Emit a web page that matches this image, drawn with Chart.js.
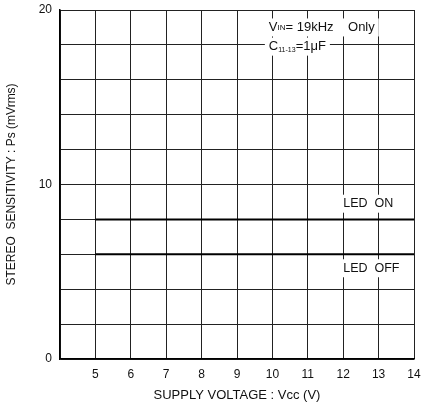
<!DOCTYPE html>
<html>
<head>
<meta charset="utf-8">
<script src="https://cdn.jsdelivr.net/npm/chart.js@4.4.0/dist/chart.umd.min.js"></script>
<style>
  html, body { margin: 0; padding: 0; background: #fff; }
  #wrap { width: 428px; height: 407px; }
</style>
</head>
<body>
<div id="wrap"><canvas id="chart" width="428" height="407"></canvas></div>
<script>
// supply voltage (V) and stereo sensitivity (mVrms)
const voltage = [5, 6, 7, 8, 9, 10, 11, 12, 13, 14];
const ledOn = [8, 8, 8, 8, 8, 8, 8, 8, 8, 8];
const ledOff = [6, 6, 6, 6, 6, 6, 6, 6, 6, 6];
const yTickLabels = [0, 10, 20];

// text notes placed in data coordinates
const notes = [
  { x: 9.9, y: 19.0, parts: [["V", 13, 0], ["IN", 8, 0], ["= 19kHz    Only", 13, 0]] },
  { x: 9.9, y: 17.9, parts: [["C", 13, 0], ["11-13", 7, 3], ["=1", 13, 0], ["μ", 13, 0], ["F", 13, 0]] },
  { x: 12.0, y: 8.9, parts: [["LED  ON", 12.5, 0]] },
  { x: 12.0, y: 5.2, parts: [["LED  OFF", 12.5, 0]] }
];

const font = "'Liberation Sans', Arial, sans-serif";

const notesPlugin = {
  id: "notes",
  beforeDatasetsDraw(c) {
    const ctx = c.ctx;
    const xs = c.scales.x, ys = c.scales.y;
    ctx.save();
    ctx.textBaseline = "middle";
    notes.forEach(n => {
      let w = 0;
      n.parts.forEach(p => { ctx.font = p[1] + "px " + font; w += ctx.measureText(p[0]).width; });
      const px = xs.getPixelForValue(n.x), py = ys.getPixelForValue(n.y);
      ctx.fillStyle = "#fff";
      ctx.fillRect(px - 4, py - 9, w + 8, 18);
      let cx = px;
      ctx.fillStyle = "#111";
      n.parts.forEach(p => {
        ctx.font = p[1] + "px " + font;
        ctx.fillText(p[0], cx, py + p[2]);
        cx += ctx.measureText(p[0]).width;
      });
    });
    ctx.restore();
  }
};

const chart = new Chart(document.getElementById("chart"), {
  type: "line",
  data: {
    labels: voltage,
    datasets: [{
      label: "LED ON",
      data: voltage.map((v, i) => ({ x: v, y: ledOn[i] })),
      borderColor: "#000",
      borderWidth: 2,
      pointRadius: 0,
      fill: false
    }, {
      label: "LED OFF",
      data: voltage.map((v, i) => ({ x: v, y: ledOff[i] })),
      borderColor: "#000",
      borderWidth: 2,
      pointRadius: 0,
      fill: false
    }]
  },
  options: {
    responsive: false,
    animation: false,
    layout: { padding: { left: 0, top: 10, right: 14, bottom: 0 } },
    plugins: {
      legend: { display: false },
      tooltip: { enabled: false }
    },
    scales: {
      x: {
        type: "linear",
        min: 4,
        max: 14,
        afterFit(s) { s.height = 48; s.paddingLeft = 0; s.paddingRight = 0; },
        grid: { color: "#222", lineWidth: 1, drawTicks: false },
        border: { color: "#000", width: 1.5 },
        ticks: {
          stepSize: 1,
          padding: 8,
          color: "#111",
          font: { family: font, size: 12 },
          callback: v => (v === 4 ? "" : v)
        },
        title: {
          display: true,
          text: "SUPPLY VOLTAGE : Vcc (V)",
          color: "#111",
          font: { family: font, size: 13 },
          padding: { top: 4 }
        }
      },
      y: {
        min: 0,
        max: 20,
        afterFit(s) { s.width = 60; s.paddingTop = 0; s.paddingBottom = 0; },
        grid: { color: "#222", lineWidth: 1, drawTicks: false },
        border: { color: "#000", width: 1.5 },
        ticks: {
          stepSize: 2,
          padding: 8,
          color: "#111",
          font: { family: font, size: 12 },
          callback: v => (yTickLabels.includes(v) ? v : "")
        },
        title: {
          display: true,
          text: "STEREO  SENSITIVITY : Ps (mVrms)",
          color: "#111",
          font: { family: font, size: 12 },
          padding: { bottom: 6 }
        }
      }
    }
  },
  plugins: [notesPlugin]
});
</script>
</body>
</html>
